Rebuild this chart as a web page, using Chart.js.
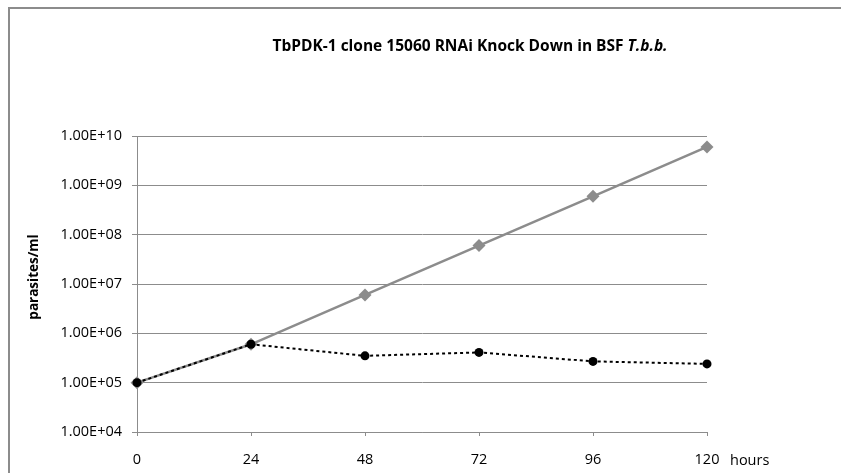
<!DOCTYPE html>
<html>
<head>
<meta charset="utf-8">
<script src="https://cdn.jsdelivr.net/npm/chart.js@4/dist/chart.umd.min.js"></script>
<style>
  html, body { margin: 0; padding: 0; background: #fff; }
  #wrap { position: relative; width: 841px; height: 473px; overflow: hidden; }
  #frame { position: absolute; left: 8px; top: 7px; width: 900px; height: 600px;
           border-left: 2px solid #8c8c8c; border-top: 2px solid #8c8c8c; box-sizing: border-box; }
  canvas { position: absolute; left: 0; top: 0; }
</style>
</head>
<body>
<div id="wrap">
  <div id="frame"></div>
  <canvas id="c" width="841" height="473"></canvas>
</div>
<script>
// ---- data ----
const hours = [0, 24, 48, 72, 96, 120];
const controlValues = [1.0e5, 6.0e5, 6.0e6, 6.0e7, 6.0e8, 6.0e9];
const rnaiValues = [1.0e5, 6.0e5, 3.5e5, 4.1e5, 2.7e5, 2.4e5];
const yTickValues = [1e4, 1e5, 1e6, 1e7, 1e8, 1e9, 1e10];
const titleText = 'TbPDK-1 clone 15060 RNAi Knock Down in BSF ';
const titleItalic = 'T.b.b.';
const yTitle = 'parasites/ml';
const xUnit = 'hours';

const FONT = "'Open Sans', 'DejaVu Sans', sans-serif";

function fmtExp(v) {
  const e = Math.round(Math.log10(v));
  const m = v / Math.pow(10, e);
  return m.toFixed(2) + 'E' + (e >= 0 ? '+' : '-') + String(Math.abs(e)).padStart(2, '0');
}

const textPlugin = {
  id: 'texts',
  afterDraw(chart) {
    const ctx = chart.ctx;
    ctx.save();
    // title
    ctx.fillStyle = '#000';
    ctx.textBaseline = 'middle';
    ctx.font = 'bold 15.5px ' + FONT;
    const w1 = ctx.measureText(titleText).width;
    ctx.font = 'italic bold 15.5px ' + FONT;
    const w2 = ctx.measureText(titleItalic).width;
    const cx = 470, cy = 47;
    const x0 = cx - (w1 + w2) / 2;
    ctx.textAlign = 'left';
    ctx.font = 'bold 15.5px ' + FONT;
    ctx.fillText(titleText, x0, cy);
    ctx.font = 'italic bold 15.5px ' + FONT;
    ctx.fillText(titleItalic, x0 + w1, cy);
    // y title
    ctx.save();
    ctx.translate(34, 277);
    ctx.rotate(-Math.PI / 2);
    ctx.textAlign = 'center';
    ctx.font = 'bold 13.5px ' + FONT;
    ctx.fillText(yTitle, 0, 0);
    ctx.restore();
    // x unit
    const xs = chart.scales.x;
    ctx.textAlign = 'left';
    ctx.font = '14.5px ' + FONT;
    ctx.fillText(xUnit, xs.getPixelForValue(hours[hours.length - 1]) + 23, 461);
    ctx.restore();
  }
};

new Chart(document.getElementById('c'), {
  type: 'line',
  data: {
    datasets: [
      {
        label: 'RNAi',
        data: hours.map((h, i) => ({ x: h, y: rnaiValues[i] })),
        borderColor: '#000',
        backgroundColor: '#000',
        borderWidth: 2,
        borderDash: [3, 3],
        pointStyle: 'circle',
        pointRadius: 4.5,
        pointBorderWidth: 0,
        tension: 0,
        clip: false,
        order: 0
      },
      {
        label: 'Control',
        data: hours.map((h, i) => ({ x: h, y: controlValues[i] })),
        borderColor: '#8c8c8c',
        backgroundColor: '#8c8c8c',
        borderWidth: 2.5,
        pointStyle: 'rectRot',
        pointRadius: 6.5,
        pointBorderWidth: 0,
        tension: 0,
        clip: false,
        order: 1
      }
    ]
  },
  options: {
    responsive: false,
    animation: false,
    devicePixelRatio: 1,
    layout: { padding: { left: 0, top: 136, right: 134, bottom: 0 } },
    plugins: { legend: { display: false }, title: { display: false }, tooltip: { enabled: false } },
    scales: {
      x: {
        type: 'linear',
        min: 0, max: 120,
        afterBuildTicks(scale) { scale.ticks = hours.map(v => ({ value: v })); },
        afterFit(scale) { scale.height = 41; },
        ticks: { color: '#000', font: { family: FONT, size: 14.5 }, padding: 15, maxRotation: 0,
                 callback: v => String(v) },
        grid: { drawOnChartArea: false, color: '#8c8c8c', tickLength: 4 },
        border: { color: '#8c8c8c', width: 1 }
      },
      y: {
        type: 'logarithmic',
        min: yTickValues[0], max: yTickValues[yTickValues.length - 1],
        afterBuildTicks(scale) { scale.ticks = yTickValues.map(v => ({ value: v })); },
        afterFit(scale) { scale.width = 137; },
        ticks: { color: '#000', font: { family: FONT, size: 14.5 }, padding: 10,
                 callback: v => fmtExp(v) },
        grid: { color: '#8c8c8c', tickLength: 5, lineWidth: 1 },
        border: { color: '#8c8c8c', width: 1 }
      }
    }
  },
  plugins: [textPlugin]
});
</script>
</body>
</html>
